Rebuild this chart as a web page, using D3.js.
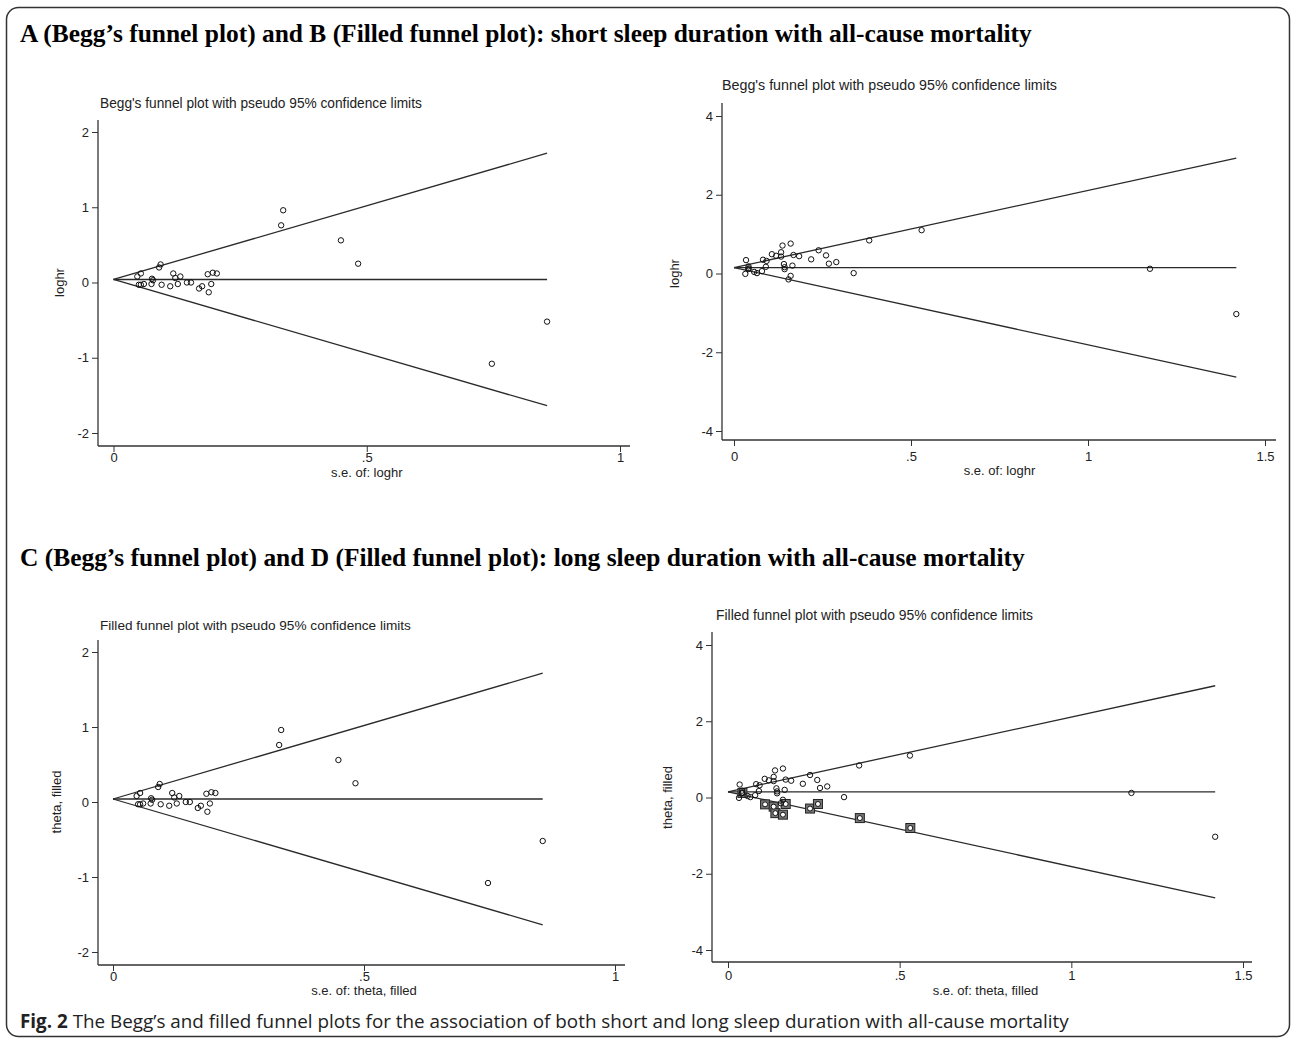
<!DOCTYPE html>
<html><head><meta charset="utf-8">
<script src="https://cdn.jsdelivr.net/npm/d3@7"></script>
<style>body{margin:0;background:#fff}svg{display:block}</style>
</head><body>
<svg id="c" width="1292" height="1042"></svg>
<script>
// ---- data ----
// Short-sleep study set (panels A and C)
const seA = [0.047,0.054,0.050,0.054,0.060,0.076,0.078,0.075,0.090,0.093,0.095,0.112,0.118,0.122,0.127,0.132,0.145,0.153,0.169,0.175,0.188,0.193,0.186,0.196,0.204,0.335,0.331,0.449,0.483,0.747,0.856];
const thetaA = [0.08,0.12,-0.03,-0.03,-0.02,0.05,0.03,-0.02,0.20,0.24,-0.03,-0.05,0.12,0.06,-0.02,0.08,0.00,0.00,-0.08,-0.05,-0.13,-0.02,0.11,0.13,0.12,0.96,0.76,0.56,0.25,-1.08,-0.52];
const centerA = 0.04;
// Long-sleep study set (panels B and D)
const seB = [0.034,0.032,0.041,0.042,0.040,0.057,0.065,0.079,0.082,0.092,0.090,0.107,0.119,0.133,0.133,0.137,0.160,0.141,0.143,0.143,0.165,0.168,0.184,0.160,0.154,0.218,0.239,0.260,0.268,0.289,0.338,0.382,0.530,1.175,1.419];
const thetaB = [0.34,-0.01,0.18,0.13,0.11,0.04,0.01,0.06,0.35,0.32,0.17,0.49,0.45,0.54,0.43,0.71,0.76,0.24,0.16,0.11,0.20,0.47,0.44,-0.06,-0.15,0.36,0.59,0.46,0.25,0.29,0.01,0.84,1.10,0.12,-1.03];
const centerB = 0.15;
// Filled (imputed) studies in panel D
const seFill = [0.042,0.108,0.133,0.138,0.160,0.168,0.239,0.262,0.384,0.531];
const thetaFill = [0.12,-0.18,-0.24,-0.41,-0.45,-0.17,-0.29,-0.17,-0.54,-0.80];
// Ticks
const xTicks1 = [0, 0.5, 1];
const xTickLabels1 = ["0", ".5", "1"];
const xTicks2 = [0, 0.5, 1, 1.5];
const xTickLabels2 = ["0", ".5", "1", "1.5"];
const yTicks1 = [-2, -1, 0, 1, 2];
const yTicks2 = [-4, -2, 0, 2, 4];
// Texts
const heading1 = "A (Begg\u2019s funnel plot) and B (Filled funnel plot): short sleep duration with all-cause mortality";
const heading2 = "C (Begg\u2019s funnel plot) and D (Filled funnel plot): long sleep duration with all-cause mortality";
const captionBold = "Fig. 2";
const captionText = " The Begg\u2019s and filled funnel plots for the association of both short and long sleep duration with all-cause mortality";
const titleBegg = "Begg's funnel plot with pseudo 95% confidence limits";
const titleFilled = "Filled funnel plot with pseudo 95% confidence limits";

// ---- drawing ----
const svg = d3.select("#c");
const SANS = "'Liberation Sans', Arial, sans-serif";

svg.append("rect").attr("x", 6.5).attr("y", 7.5).attr("width", 1283).attr("height", 1029)
  .attr("rx", 12).attr("fill", "none").attr("stroke", "#333").attr("stroke-width", 1.5);

function fit(sel, w) {
  const fs = parseFloat(sel.attr("font-size"));
  const m = sel.node().getComputedTextLength();
  sel.attr("font-size", (fs * w / m).toFixed(2));
}

fit(svg.append("text").attr("x", 20).attr("y", 42).attr("font-family", "'Liberation Serif', 'Times New Roman', serif")
  .attr("font-weight", "bold").attr("font-size", 22).attr("fill", "#000").text(heading1), 1012);
fit(svg.append("text").attr("x", 20).attr("y", 566).attr("font-family", "'Liberation Serif', 'Times New Roman', serif")
  .attr("font-weight", "bold").attr("font-size", 22).attr("fill", "#000").text(heading2), 1005);

const cap = svg.append("text").attr("x", 20).attr("y", 1028).attr("font-family", "'Open Sans', 'Noto Sans', sans-serif")
  .attr("font-size", 17).attr("fill", "#222");
cap.append("tspan").attr("font-weight", "bold").text(captionBold);
cap.append("tspan").text(captionText);
fit(cap, 1049);

function panel(cfg) {
  const g = svg.append("g");
  const x = d3.scaleLinear().domain(cfg.xd).range(cfg.xr);
  const y = d3.scaleLinear().domain(cfg.yd).range(cfg.yr);
  // title
  fit(g.append("text").attr("x", cfg.titleX).attr("y", cfg.titleY).attr("font-family", SANS)
    .attr("font-size", 12.5).attr("fill", "#222").text(cfg.title), cfg.titleW);
  // axes
  const ax = d3.axisBottom(x).tickValues(cfg.xt).tickFormat((d, i) => cfg.xtl[i]).tickSize(6).tickSizeOuter(0);
  const axG = g.append("g").attr("transform", `translate(0,${cfg.axisY})`).call(ax);
  axG.select(".domain").remove();
  axG.append("line").attr("x1", cfg.axisX).attr("x2", cfg.axisRight).attr("stroke", "#333").attr("stroke-width", 1.3);
  axG.selectAll(".tick line").attr("stroke", "#333");
  axG.selectAll(".tick text").attr("font-family", SANS).attr("font-size", 13).attr("fill", "#222")
    .attr("dy", "0.71em").attr("y", cfg.xLabDy);
  const ay = d3.axisLeft(y).tickValues(cfg.yt).tickFormat(d => String(d)).tickSize(6).tickSizeOuter(0);
  const ayG = g.append("g").attr("transform", `translate(${cfg.axisX},0)`).call(ay);
  ayG.select(".domain").remove();
  ayG.append("line").attr("y1", cfg.axisTop).attr("y2", cfg.axisY).attr("stroke", "#333").attr("stroke-width", 1.3);
  ayG.selectAll(".tick line").attr("stroke", "#333");
  ayG.selectAll(".tick text").attr("font-family", SANS).attr("font-size", 13).attr("fill", "#222").attr("x", -9);
  // axis titles
  g.append("text").attr("x", (cfg.xr[0] + x(cfg.xt[cfg.xt.length - 1])) / 2).attr("y", cfg.axisY + cfg.xTitleDy)
    .attr("text-anchor", "middle").attr("font-family", SANS).attr("font-size", 13).attr("fill", "#222").text(cfg.xTitle);
  g.append("text").attr("transform", `translate(${cfg.yTitleX},${y(0)}) rotate(-90)`)
    .attr("text-anchor", "middle").attr("font-family", SANS).attr("font-size", 13).attr("fill", "#222").text(cfg.yTitle);
  // funnel
  const allSe = cfg.se.concat(cfg.seF || []);
  const maxSe = d3.max(allSe);
  const c = cfg.center;
  const line = d3.line().x(d => x(d[0])).y(d => y(d[1]));
  const lines = [
    [[0, c], [maxSe, c + 1.96 * maxSe]],
    [[0, c], [maxSe, c - 1.96 * maxSe]],
    [[0, c], [maxSe, c]]
  ];
  g.selectAll(".fl").data(lines).join("path").attr("d", line)
    .attr("fill", "none").attr("stroke", "#2a2a2a").attr("stroke-width", 1.3);
  // filled studies
  if (cfg.seF) {
    const fd = cfg.seF.map((s, i) => [s, cfg.thF[i]]);
    g.selectAll(".fs").data(fd).join("rect")
      .attr("x", d => x(d[0]) - 4.5).attr("y", d => y(d[1]) - 4.5).attr("width", 9).attr("height", 9)
      .attr("fill", "#777").attr("stroke", "#222").attr("stroke-width", 1);
    g.selectAll(".fc").data(fd).join("circle")
      .attr("cx", d => x(d[0])).attr("cy", d => y(d[1])).attr("r", 2.5)
      .attr("fill", "#fff").attr("stroke", "#111").attr("stroke-width", 1);
  }
  // studies
  const pd = cfg.se.map((s, i) => [s, cfg.th[i]]);
  g.selectAll(".pt").data(pd).join("circle")
    .attr("cx", d => x(d[0])).attr("cy", d => y(d[1])).attr("r", 2.7)
    .attr("fill", "none").attr("stroke", "#111").attr("stroke-width", 1);
}

panel({ title: titleBegg, titleX: 100, titleY: 107.5, titleW: 322,
  xd: [0, 1], xr: [113.5, 620], yd: [-2, 2], yr: [433, 132],
  axisX: 98, axisTop: 120, axisY: 446, axisRight: 630, xLabDy: 7, xTitleDy: 31, yTitleX: 64,
  xt: xTicks1, xtl: xTickLabels1, yt: yTicks1, xTitle: "s.e. of: loghr", yTitle: "loghr",
  se: seA, th: thetaA, center: centerA });

panel({ title: titleBegg, titleX: 722, titleY: 89.5, titleW: 335,
  xd: [0, 1.5], xr: [734, 1265], yd: [-4, 4], yr: [431, 116],
  axisX: 722, axisTop: 103, axisY: 440, axisRight: 1276, xLabDy: 12, xTitleDy: 35, yTitleX: 679,
  xt: xTicks2, xtl: xTickLabels2, yt: yTicks2, xTitle: "s.e. of: loghr", yTitle: "loghr",
  se: seB, th: thetaB, center: centerB });

panel({ title: titleFilled, titleX: 100, titleY: 629.5, titleW: 311,
  xd: [0, 1], xr: [113, 615], yd: [-2, 2], yr: [952, 652],
  axisX: 98, axisTop: 640, axisY: 965, axisRight: 625, xLabDy: 7, xTitleDy: 30, yTitleX: 61,
  xt: xTicks1, xtl: xTickLabels1, yt: yTicks1, xTitle: "s.e. of: theta, filled", yTitle: "theta, filled",
  se: seA, th: thetaA, center: centerA });

panel({ title: titleFilled, titleX: 716, titleY: 619.5, titleW: 317,
  xd: [0, 1.5], xr: [728, 1243], yd: [-4, 4], yr: [950, 645],
  axisX: 712, axisTop: 632, axisY: 962, axisRight: 1252, xLabDy: 9, xTitleDy: 33, yTitleX: 672,
  xt: xTicks2, xtl: xTickLabels2, yt: yTicks2, xTitle: "s.e. of: theta, filled", yTitle: "theta, filled",
  se: seB, th: thetaB, seF: seFill, thF: thetaFill, center: centerB });
</script>
</body></html>
